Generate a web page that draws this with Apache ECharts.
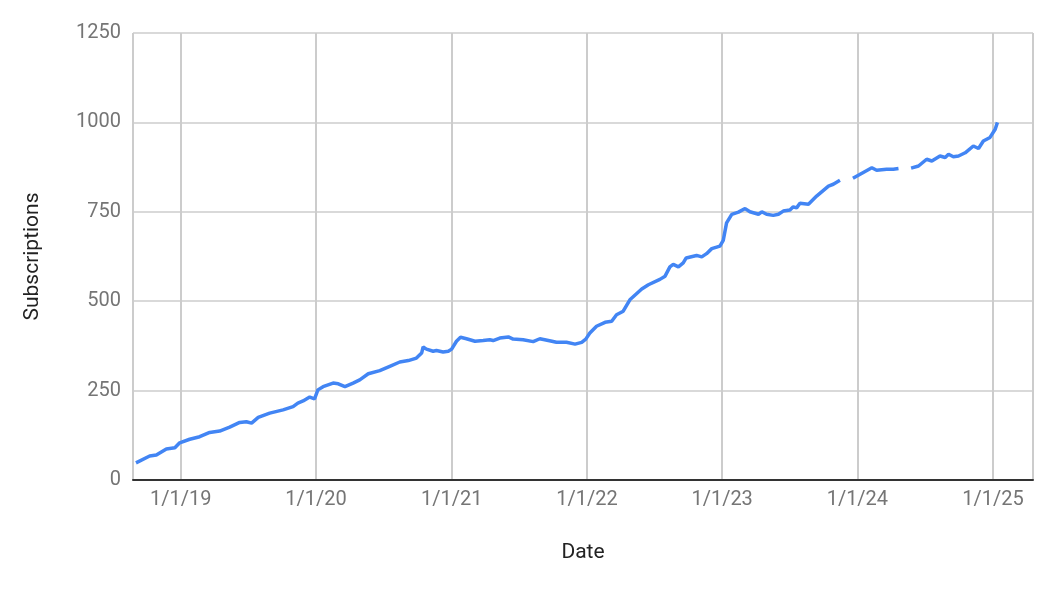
<!DOCTYPE html>
<html>
<head>
<meta charset="utf-8">
<script src="https://cdn.jsdelivr.net/npm/echarts@6/dist/echarts.min.js"></script>
<style>
html,body{margin:0;padding:0;background:#fff;}
#chart{width:1054px;height:590px;}
</style>
</head>
<body>
<div id="chart"></div>
<script>
const dates = [
'2018-09-02','2018-10-09','2018-10-27','2018-11-23','2018-12-16','2018-12-29',
'2019-01-25','2019-02-21','2019-03-20','2019-04-16','2019-05-13','2019-06-09','2019-06-27','2019-07-11','2019-07-29','2019-08-29','2019-10-04','2019-10-31','2019-11-13','2019-11-27','2019-12-15','2019-12-28',
'2020-01-06','2020-01-20','2020-02-16','2020-03-01','2020-03-19','2020-04-10','2020-04-28','2020-05-21','2020-06-21','2020-07-18','2020-08-14','2020-09-06','2020-09-10','2020-09-28','2020-10-12','2020-10-16','2020-10-25','2020-11-12','2020-11-21','2020-12-09','2020-12-23',
'2021-01-01','2021-01-14','2021-01-25','2021-02-10','2021-03-05','2021-03-27','2021-04-14','2021-04-23','2021-05-11','2021-06-03','2021-06-16','2021-07-13','2021-08-09','2021-08-27','2021-09-19','2021-10-11','2021-11-07','2021-11-30','2021-12-18','2021-12-29',
'2022-01-09','2022-01-27','2022-02-19','2022-03-09','2022-03-22','2022-04-09','2022-04-27','2022-05-29','2022-06-16','2022-07-17','2022-07-31','2022-08-13','2022-08-22','2022-09-05','2022-09-18','2022-09-26','2022-10-24','2022-11-07','2022-11-20','2022-12-04','2022-12-26',
'2023-01-04','2023-01-13','2023-01-27','2023-02-14','2023-03-04','2023-03-17','2023-04-09','2023-04-18','2023-05-01','2023-05-19','2023-06-02','2023-06-15','2023-07-03','2023-07-12','2023-07-21','2023-07-30','2023-08-22','2023-09-13','2023-10-15','2023-10-28','2023-11-15',
'2023-12-01',
'2023-12-20','2024-01-17','2024-02-09','2024-02-22','2024-03-20','2024-04-07','2024-04-21',
'2024-05-08',
'2024-05-25','2024-06-14','2024-07-06','2024-07-20','2024-08-11','2024-08-25','2024-09-03','2024-09-16','2024-09-30','2024-10-18','2024-11-09','2024-11-23','2024-12-06','2024-12-24','2025-01-07','2025-01-13'
];
const subscriptions = [
48,67,70,87,90,104,
114,121,133,137,148,161,163,159,175,187,196,205,215,221,232,227,
252,261,271,269,261,271,280,297,306,318,330,334,330,341,355,372,366,360,362,358,360,
366,388,399,395,388,390,392,390,397,400,394,392,387,395,390,385,385,380,385,394,
411,430,441,444,462,472,504,534,546,561,570,596,603,596,607,621,628,624,633,647,654,
670,719,743,749,759,750,743,750,743,740,743,752,755,764,761,774,771,794,822,827,838,
null,
844,860,873,866,869,869,871,
null,
872,878,897,892,906,902,911,904,906,915,934,927,948,958,981,1000
];
const yTicks = { min: 0, max: 1250, interval: 250 };
const xRange = { min: '2018-08-25', max: '2025-04-19' };
const xTitle = 'Date';
const yTitle = 'Subscriptions';

const seriesData = dates.map((d, i) => [d, subscriptions[i]]);
const YEAR = 365.25 * 24 * 3600 * 1000;
const chart = echarts.init(document.getElementById('chart'), null, { renderer: 'canvas' });
chart.setOption({
  animation: false,
  backgroundColor: '#ffffff',
  textStyle: { fontFamily: 'Roboto' },
  grid: { left: 133, right: 21, top: 33, bottom: 110, containLabel: false },
  xAxis: {
    type: 'time',
    min: xRange.min,
    max: xRange.max,
    minInterval: YEAR,
    maxInterval: YEAR,
    name: xTitle,
    nameLocation: 'middle',
    nameGap: 62,
    nameTextStyle: { color: '#222', fontSize: 21, fontFamily: 'Roboto' },
    axisLine: { show: true, lineStyle: { color: '#333', width: 2 } },
    axisTick: { show: false },
    axisLabel: {
      color: '#757575', fontSize: 20, margin: 10, fontFamily: 'Roboto',
      showMinLabel: false, showMaxLabel: false,
      formatter: function (v) {
        const d = new Date(v);
        return (d.getMonth() + 1) + '/' + d.getDate() + '/' + String(d.getFullYear()).slice(2);
      }
    },
    splitLine: { show: true, lineStyle: { color: '#cccccc', width: 2 } },
    minorTick: { show: false },
    minorSplitLine: { show: false }
  },
  yAxis: {
    type: 'value',
    min: yTicks.min,
    max: yTicks.max,
    interval: yTicks.interval,
    name: yTitle,
    nameLocation: 'middle',
    nameGap: 90,
    nameTextStyle: { color: '#222', fontSize: 21, fontFamily: 'Roboto' },
    axisLine: { show: false },
    axisTick: { show: false },
    axisLabel: {
      color: '#757575', fontSize: 20, margin: 12, fontFamily: 'Roboto',
      formatter: function (v) { return String(v); }
    },
    splitLine: { show: true, lineStyle: { color: '#cccccc', width: 1.5 } }
  },
  series: [{
    type: 'line',
    data: seriesData,
    showSymbol: false,
    connectNulls: false,
    lineStyle: { color: '#4285F4', width: 3.5 },
    itemStyle: { color: '#4285F4' },
    z: 3
  }]
});
</script>
</body>
</html>
